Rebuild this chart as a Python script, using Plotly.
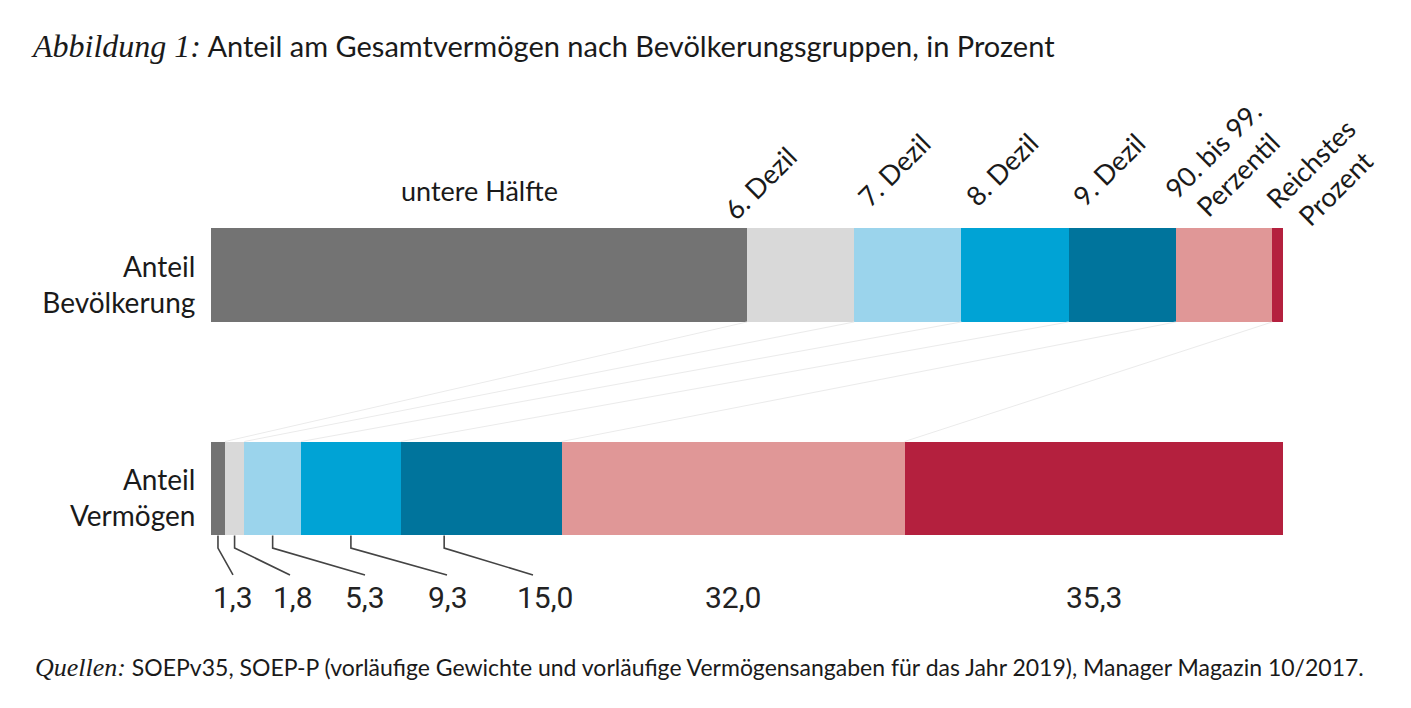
import plotly.graph_objects as go

# Data
groups = ["untere Hälfte", "6. Dezil", "7. Dezil", "8. Dezil", "9. Dezil",
          "90. bis 99.<br>Perzentil", "Reichstes<br>Prozent"]
pop_share = [50, 10, 10, 10, 10, 9, 1]
wealth_share = [1.3, 1.8, 5.3, 9.3, 15.0, 32.0, 35.3]
rows = ["Anteil<br>Bevölkerung", "Anteil<br>Vermögen"]

colors = ["#737373", "#d9d9d9", "#9bd4ec", "#00a3d5", "#00749c", "#e09797", "#b4203e"]

SANS = "Lato"
NUM = "Roboto"
SERIF = "Liberation Serif"

W, H = 1411, 708
OFF = 8          # page body margin of the html
BAR_W = 0.44
PX_PER_ROW = 213.5
ROW0_PX = 275 - OFF


def py(p):
    # pixel row of the reference -> paper y (margins t=b=0)
    return 1 - (p - OFF) / H


def cum(vals):
    out, s = [], 0
    for v in vals:
        s += v
        out.append(s)
    return out


pop_cum = cum(pop_share)
wealth_cum = cum(wealth_share)

fig = go.Figure()

# faint connector lines between group borders
for a, b in zip(pop_cum[:-1], wealth_cum[:-1]):
    fig.add_trace(go.Scatter(x=[a, b], y=[BAR_W / 2, 1 - BAR_W / 2], mode="lines",
                             line=dict(color="#ebebeb", width=1),
                             showlegend=False, hoverinfo="skip"))

for g, p, w, c in zip(groups, pop_share, wealth_share, colors):
    fig.add_trace(go.Bar(y=[0, 1], x=[p, w], orientation="h", width=BAR_W,
                         marker=dict(color=c, line=dict(width=0)),
                         name=g.replace("<br>", " "), showlegend=False))

# wealth value labels and leader lines
label_px = [233, 293, 365, 448, 545]   # pixel centres of the first five labels
leader_px = [233, 290, 365, 447, 533]
leader_frac = [0.5, 0.5, 0.5, 0.5, 0.27]  # where the leader leaves the segment
to_x = lambda p: (p - 211) / 10.72
y_bottom = 1 + BAR_W / 2
y_bend = 1.279
y_end = 1.405
y_label = 1.51

annotations = []
for i, v in enumerate(wealth_share):
    left = wealth_cum[i] - v
    if i < len(label_px):
        lx = to_x(label_px[i])
        start = left + v * leader_frac[i]
        fig.add_trace(go.Scatter(x=[start, start, to_x(leader_px[i])],
                                 y=[y_bottom, y_bend, y_end], mode="lines",
                                 line=dict(color="#444444", width=1.6),
                                 showlegend=False, hoverinfo="skip"))
    else:
        lx = left + v / 2
    annotations.append(dict(x=lx, y=y_label, xref="x", yref="y",
                            xanchor="center", yanchor="middle",
                            text=f"{v:.1f}".replace(".", ","), showarrow=False,
                            font=dict(family=NUM, size=30, color="#222222")))

# group labels above the population bar
grp_shift = [0, -40, -14, -14, -14, 1, 45]
grp_py = [190, 183, 169, 169, 169, 162, 176]
for i, g in enumerate(groups):
    centre = pop_cum[i] - pop_share[i] / 2
    annotations.append(dict(x=centre, y=py(grp_py[i]), xref="x", yref="paper",
                            xanchor="center", yanchor="middle",
                            xshift=grp_shift[i], text=g, showarrow=False,
                            textangle=0 if i == 0 else -45,
                            font=dict(family=SANS, size=27, color="#1a1a1a")))

# footer
annotations.append(dict(
    x=to_x(33) / 100, y=py(667), xref="paper", yref="paper",
    xanchor="left", yanchor="middle", showarrow=False,
    text=f"<span style='font-family:{SERIF};font-size:26px'><i>Quellen:</i></span> "
         "SOEPv35, SOEP-P (vorläufige Gewichte und vorläufige Vermögensangaben "
         "für das Jahr 2019), Manager Magazin 10/2017.",
    font=dict(family=SANS, size=23, color="#1a1a1a")))

fig.update_layout(
    width=W, height=H,
    margin=dict(l=211 - OFF, r=W - (1283 - OFF), t=0, b=0),
    barmode="stack",
    paper_bgcolor="white", plot_bgcolor="white",
    title=dict(
        text=f"<span style='font-family:{SERIF};font-size:32px'><i>Abbildung 1:</i></span> "
             "Anteil am Gesamtvermögen nach Bevölkerungsgruppen, in Prozent",
        x=(33 - OFF) / W, xanchor="left", xref="container",
        y=py(47), yanchor="middle", yref="container",
        font=dict(family=SANS, size=29, color="#1a1a1a")),
    xaxis=dict(range=[0, 100], visible=False),
    yaxis=dict(range=[(H - ROW0_PX) / PX_PER_ROW, -ROW0_PX / PX_PER_ROW],
               tickvals=[0, 1], ticktext=rows,
               showgrid=False, zeroline=False, showline=False,
               ticks="outside", ticklen=9, tickcolor="rgba(0,0,0,0)",
               ticklabelshift=-10,
               tickfont=dict(family=SANS, size=28, color="#1a1a1a")),
    annotations=annotations,
)

fig.write_html("out.html")
